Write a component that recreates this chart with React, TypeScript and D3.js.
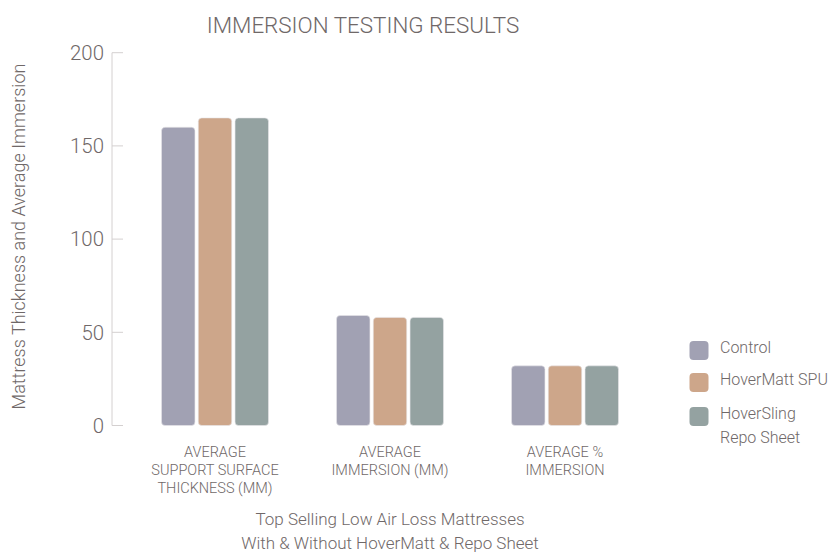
import React from "react";
import * as d3 from "d3";

const categories = [
  ["AVERAGE", "SUPPORT SURFACE", "THICKNESS (MM)"],
  ["AVERAGE", "IMMERSION (MM)"],
  ["AVERAGE %", "IMMERSION"],
];
const seriesNames = ["Control", "HoverMatt SPU", "HoverSling Repo Sheet"];
const legendLines = [["Control"], ["HoverMatt SPU"], ["HoverSling", "Repo Sheet"]];
const control = [160, 59, 32];
const hovermatt = [165, 58, 32];
const hoversling = [165, 58, 32];
const yTicks = [0, 50, 100, 150, 200];
const colors = ["#A1A1B3", "#CDA68A", "#94A2A1"];

const W = 838, H = 560;
const FONT = "Roboto, 'Liberation Sans', sans-serif";
const TXT = "#6f6868";

export default function App() {
  const series = [control, hovermatt, hoversling];
  const y = d3.scaleLinear().domain([0, 200]).range([425.5, 52.7]);
  const x0 = d3.scaleBand<number>().domain([0, 1, 2]).range([127.5, 652.5]).padding(0);
  const x1 = d3.scaleBand<number>().domain([0, 1, 2]).range([-53.5, 53.5]).paddingInner(0.09).paddingOuter(0);
  const axisX = 112;
  return (
    <svg width={W} height={H} style={{ position: "absolute", left: 0, top: 0 }} fontFamily={FONT} fontWeight={300}>
      <rect width={W} height={H} fill="#fff" />
      <text x={363} y={33} textAnchor="middle" fontSize={22.4} fill={TXT}>IMMERSION TESTING RESULTS</text>
      <line x1={axisX} x2={axisX} y1={y(200)} y2={y(0)} stroke="#d4d0d0" strokeWidth={1} />
      {yTicks.map((t) => (
        <g key={t}>
          <line x1={axisX} x2={axisX + 11} y1={y(t)} y2={y(t)} stroke="#d4d0d0" strokeWidth={1} />
          <text x={104} y={y(t)} dy="0.36em" textAnchor="end" fontSize={20.4} fill={TXT}>{t}</text>
        </g>
      ))}
      <text transform={`translate(25,${236.5}) rotate(-90)`} textAnchor="middle" fontSize={18} fill={TXT}>
        Mattress Thickness and Average Immersion
      </text>
      {categories.map((lines, ci) => {
        const cx = (x0(ci) as number) + x0.bandwidth() / 2;
        return (
          <g key={ci}>
            {series.map((s, si) => {
              const bx = cx + (x1(si) as number);
              return (
                <rect key={si} x={bx} y={y(s[ci])} width={x1.bandwidth()} height={y(0) - y(s[ci])}
                  rx={3.5} ry={3.5} fill={colors[si]} stroke="#e8e6ea" strokeWidth={0.6} />
              );
            })}
            {lines.map((l, li) => (
              <text key={li} x={cx} y={456.5 + li * 18.3} textAnchor="middle" fontSize={14.5} fill={TXT}>{l}</text>
            ))}
          </g>
        );
      })}
      <text x={390} y={525} textAnchor="middle" fontSize={17} fill={TXT}>Top Selling Low Air Loss Mattresses</text>
      <text x={390} y={548.5} textAnchor="middle" fontSize={17} fill={TXT}>With &amp; Without HoverMatt &amp; Repo Sheet</text>
      {seriesNames.map((n, i) => {
        const ly = [341, 373, 407][i];
        return (
          <g key={n}>
            <rect x={689.5} y={ly} width={19} height={19} rx={4} fill={colors[i]} />
            {legendLines[i].map((l, li) => (
              <text key={li} x={720} y={ly + 11.5 + li * 24} fontSize={16} fill={TXT}>{l}</text>
            ))}
          </g>
        );
      })}
    </svg>
  );
}
